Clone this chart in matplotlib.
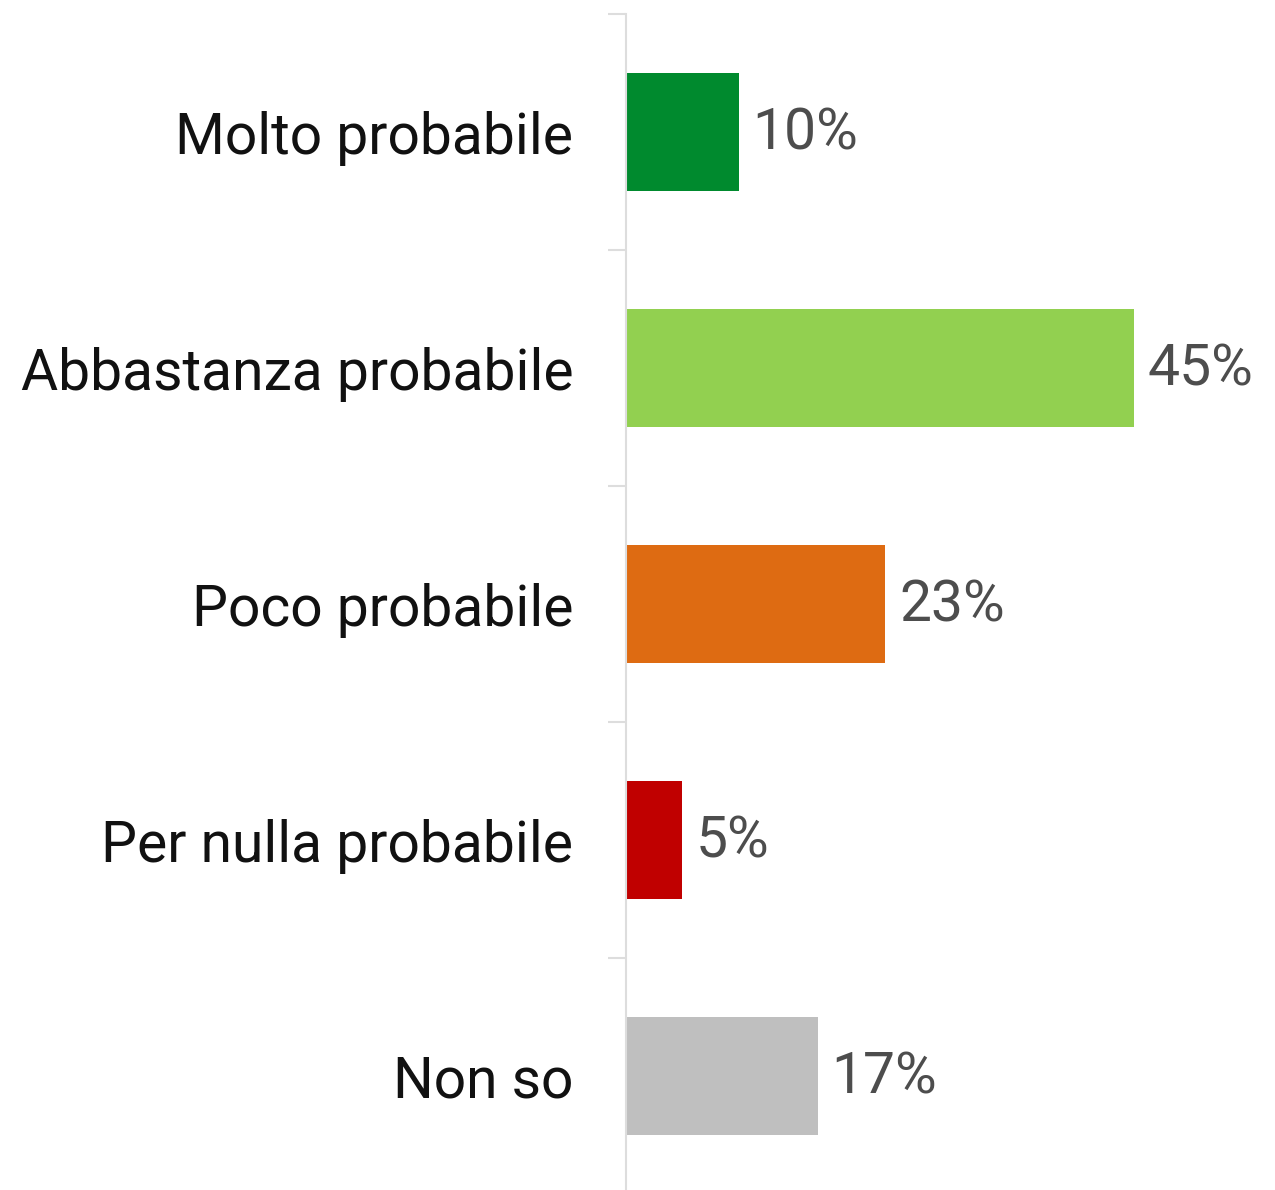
import matplotlib.pyplot as plt
import matplotlib.transforms as mtransforms

categories = ['Molto probabile', 'Abbastanza probabile', 'Poco probabile',
              'Per nulla probabile', 'Non so']
values = [10, 45, 23, 5, 17]
colors = ['#008A2E', '#92D050', '#DE6B12', '#C00000', '#BFBFBF']

plt.rcParams['font.family'] = ['Roboto', 'DejaVu Sans']

W, H = 1275, 1190
fig = plt.figure(figsize=(W / 100, H / 100), dpi=100)
# axes: left at x=626px, top at y=14px, 5 bands of 236px
left, top, band = 626, 14, 236
bottom = top + band * len(categories)
ax = fig.add_axes([left / W, 1 - bottom / H, (W - left) / W, (bottom - top) / H])

ypos = list(range(len(categories)))
ax.barh(ypos, values, height=0.5, color=colors)
ax.set_ylim(len(categories) - 0.5, -0.5)
ax.set_xlim(0, (W - left) / 11.28)

for y, v in zip(ypos, values):
    ax.text(v + 1.2, y + 0.01, f'{v}%', va='center', ha='left', fontsize=41,
            color='#4d4d4d')

ax.set_yticks(ypos)
ax.set_yticklabels(categories, fontsize=41, color='#111111')
# nudge category labels up a few pixels
shift = mtransforms.ScaledTranslation(0, 4 / 100, fig.dpi_scale_trans)
for lbl in ax.get_yticklabels():
    lbl.set_transform(lbl.get_transform() + shift)
ax.tick_params(axis='y', which='major', length=0, pad=38)
ax.set_yticks([i - 0.5 for i in range(len(categories) + 1)], minor=True)
ax.tick_params(axis='y', which='minor', length=13, width=1.5, color='#dddddd')
ax.set_xticks([])

for s in ['top', 'right', 'bottom']:
    ax.spines[s].set_visible(False)
ax.spines['left'].set_color('#dddddd')
ax.spines['left'].set_linewidth(1.5)

fig.savefig('out.png', dpi=100)
